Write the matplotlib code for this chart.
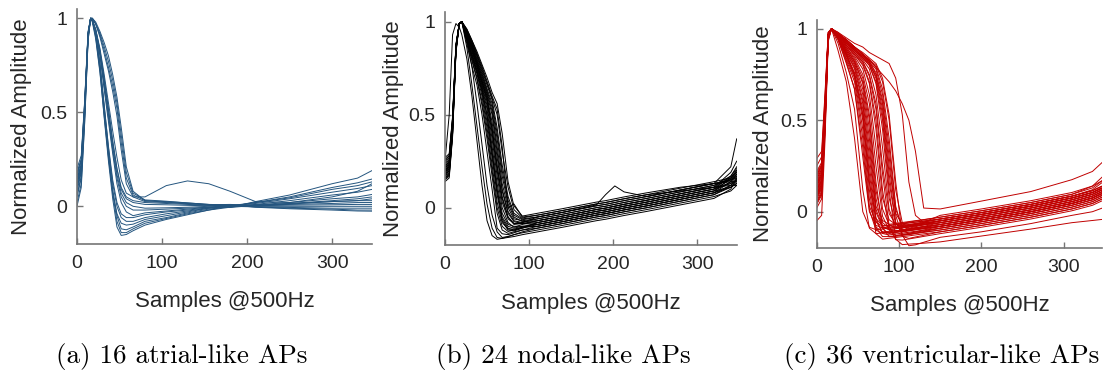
import matplotlib
matplotlib.use("Agg")
import matplotlib.pyplot as plt

# ---------------- data ----------------
# (a) atrial-like APs: shared sample grid + 16 traces
xa = [0, 5, 9, 13, 16, 18, 22, 27, 32, 37, 42, 47, 52, 58, 66,
      80, 105, 130, 155, 180, 210, 250, 300, 330, 347]
atrial = [
    [0.02, 0.12, 0.45, 0.88, 1.00, 0.99, 0.90, 0.72, 0.47, 0.24, 0.04, -0.11, -0.155, -0.15, -0.13, -0.10, -0.07, -0.045, -0.02, -0.005, 0.025, 0.06, 0.12, 0.15, 0.19],
    [0.05, 0.15, 0.48, 0.90, 1.00, 0.99, 0.91, 0.74, 0.50, 0.27, 0.07, -0.08, -0.14, -0.14, -0.12, -0.09, -0.065, -0.04, -0.02, 0.003, 0.02, 0.05, 0.10, 0.125, 0.145],
    [0.08, 0.18, 0.50, 0.91, 1.00, 0.99, 0.92, 0.75, 0.52, 0.29, 0.09, -0.05, -0.12, -0.125, -0.11, -0.08, -0.06, -0.035, -0.015, -0.002, 0.02, 0.045, 0.09, 0.11, 0.13],
    [0.00, 0.10, 0.44, 0.88, 1.00, 0.98, 0.89, 0.71, 0.48, 0.26, 0.07, -0.04, -0.09, -0.10, -0.095, -0.07, -0.05, -0.03, -0.01, 0.004, 0.015, 0.04, 0.075, 0.095, 0.11],
    [0.12, 0.20, 0.52, 0.92, 1.00, 0.99, 0.92, 0.76, 0.54, 0.31, 0.12, 0.00, -0.06, -0.08, -0.08, -0.06, -0.04, -0.025, -0.01, -0.004, 0.01, 0.03, 0.06, 0.075, 0.09],
    [0.10, 0.19, 0.50, 0.90, 1.00, 0.99, 0.91, 0.75, 0.53, 0.32, 0.14, 0.02, -0.04, -0.06, -0.06, -0.045, -0.03, -0.02, -0.008, 0.002, 0.008, 0.02, 0.04, 0.05, 0.063],
    [0.15, 0.22, 0.52, 0.91, 1.00, 0.99, 0.93, 0.80, 0.62, 0.45, 0.28, 0.12, 0.02, -0.03, -0.05, -0.035, -0.025, -0.015, -0.005, 0.006, 0.005, 0.015, 0.025, 0.03, 0.03],
    [0.18, 0.25, 0.55, 0.92, 1.00, 0.99, 0.93, 0.81, 0.64, 0.47, 0.30, 0.15, 0.05, 0.00, -0.02, -0.02, -0.015, -0.01, -0.005, -0.003, 0.005, 0.01, 0.015, 0.02, 0.02],
    [0.20, 0.27, 0.56, 0.93, 1.00, 0.99, 0.94, 0.82, 0.66, 0.49, 0.32, 0.17, 0.07, 0.02, 0.00, -0.01, -0.008, -0.005, 0.00, 0.004, 0.003, 0.006, 0.008, 0.01, 0.01],
    [0.13, 0.22, 0.53, 0.91, 1.00, 0.99, 0.94, 0.83, 0.68, 0.52, 0.35, 0.20, 0.09, 0.04, 0.02, 0.01, 0.008, 0.005, 0.003, -0.002, 0.00, 0.00, 0.00, 0.00, 0.00],
    [0.06, 0.16, 0.48, 0.89, 1.00, 0.99, 0.93, 0.82, 0.67, 0.51, 0.34, 0.20, 0.10, 0.05, 0.03, 0.02, 0.015, 0.01, 0.005, 0.006, -0.003, -0.006, -0.01, -0.01, -0.01],
    [0.16, 0.24, 0.54, 0.92, 1.00, 1.00, 0.97, 0.91, 0.83, 0.74, 0.64, 0.52, 0.34, 0.15, 0.06, 0.03, 0.022, 0.015, 0.008, 0.00, -0.003, -0.01, -0.015, -0.02, -0.02],
    [0.14, 0.22, 0.52, 0.91, 1.00, 1.00, 0.97, 0.92, 0.85, 0.77, 0.67, 0.55, 0.38, 0.18, 0.07, 0.034, 0.027, 0.018, 0.01, 0.008, -0.005, -0.013, -0.02, -0.025, -0.026],
    [0.10, 0.19, 0.50, 0.90, 1.00, 1.00, 0.98, 0.93, 0.87, 0.80, 0.70, 0.58, 0.42, 0.21, 0.08, 0.03, 0.025, 0.018, 0.01, -0.006, 0.005, 0.015, 0.03, 0.04, 0.05],
    [0.17, 0.25, 0.55, 0.92, 1.00, 1.00, 0.97, 0.90, 0.81, 0.72, 0.61, 0.48, 0.30, 0.12, 0.05, 0.025, 0.02, 0.013, 0.008, 0.01, 0.005, 0.012, 0.025, 0.03, 0.04],
    [0.12, 0.21, 0.51, 0.90, 1.00, 0.99, 0.94, 0.84, 0.70, 0.55, 0.40, 0.26, 0.14, 0.07, 0.05, 0.05, 0.11, 0.135, 0.12, 0.08, 0.025, 0.02, 0.05, 0.08, 0.12],
]

# (b) nodal-like APs: shared sample grid + 24 traces
xb = [0, 5, 9, 13, 17, 20, 26, 32, 38, 44, 50, 56, 62, 68, 75, 82, 92,
      110, 140, 180, 191, 202, 213, 240, 280, 320, 340, 347]
nodal = [
    [0.25, 0.50, 0.93, 0.99, 0.97, 0.93, 0.80, 0.60, 0.36, 0.12, -0.07, -0.15, -0.17, -0.165, -0.155, -0.145, -0.135, -0.12, -0.095, -0.06, -0.052, -0.042, -0.032, -0.01, 0.025, 0.06, 0.09, 0.12],
    [0.15, 0.18, 0.40, 0.85, 0.99, 1.0, 0.86, 0.66, 0.44, 0.22, 0.02, -0.11, -0.16, -0.165, -0.16, -0.155, -0.145, -0.13, -0.105, -0.07, -0.062, -0.052, -0.042, -0.02, 0.015, 0.05, 0.10, 0.16],
    [0.20, 0.23, 0.45, 0.86, 0.99, 1.0, 0.90, 0.76, 0.56, 0.34, 0.12, -0.04, -0.13, -0.16, -0.155, -0.145, -0.13, -0.11, -0.085, -0.05, -0.042, -0.032, -0.022, 0.0, 0.035, 0.07, 0.12, 0.15],
    [0.17, 0.20, 0.42, 0.85, 0.99, 1.0, 0.88, 0.76, 0.66, 0.50, 0.30, 0.10, -0.11, -0.14, -0.145, -0.135, -0.12, -0.10, -0.075, -0.04, -0.032, -0.022, -0.012, 0.01, 0.045, 0.08, 0.14, 0.18],
    [0.22, 0.25, 0.46, 0.87, 0.99, 1.0, 0.90, 0.79, 0.69, 0.55, 0.37, 0.17, -0.03, -0.12, -0.138, -0.13, -0.12, -0.11, -0.085, -0.05, -0.042, -0.032, -0.022, 0.0, 0.035, 0.07, 0.11, 0.13],
    [0.14, 0.16, 0.38, 0.83, 0.99, 1.0, 0.90, 0.80, 0.70, 0.57, 0.40, 0.20, 0.00, -0.10, -0.128, -0.12, -0.11, -0.09, -0.065, -0.03, -0.022, -0.012, -0.002, 0.02, 0.055, 0.09, 0.16, 0.20],
    [0.26, 0.28, 0.48, 0.87, 0.99, 1.0, 0.91, 0.81, 0.72, 0.60, 0.43, 0.23, 0.03, -0.08, -0.115, -0.115, -0.105, -0.10, -0.075, -0.04, -0.032, -0.022, -0.012, 0.01, 0.045, 0.08, 0.12, 0.15],
    [0.19, 0.22, 0.44, 0.86, 0.99, 1.0, 0.91, 0.82, 0.73, 0.62, 0.46, 0.27, 0.07, -0.07, -0.12, -0.125, -0.11, -0.08, -0.055, -0.02, -0.012, -0.002, 0.008, 0.03, 0.065, 0.10, 0.17, 0.22],
    [0.23, 0.26, 0.47, 0.87, 0.99, 1.0, 0.92, 0.83, 0.74, 0.64, 0.50, 0.30, 0.10, -0.05, -0.10, -0.11, -0.10, -0.09, -0.065, -0.03, -0.022, -0.012, -0.002, 0.02, 0.055, 0.09, 0.14, 0.17],
    [0.16, 0.18, 0.40, 0.84, 0.99, 1.0, 0.91, 0.82, 0.73, 0.63, 0.49, 0.29, 0.09, -0.06, -0.11, -0.12, -0.105, -0.08, -0.055, -0.02, -0.012, -0.002, 0.008, 0.03, 0.065, 0.10, 0.15, 0.19],
    [0.21, 0.24, 0.45, 0.86, 0.99, 1.0, 0.92, 0.84, 0.75, 0.65, 0.53, 0.33, 0.13, -0.03, -0.09, -0.10, -0.10, -0.10, -0.075, -0.04, -0.032, -0.022, -0.012, 0.01, 0.045, 0.08, 0.11, 0.14],
    [0.18, 0.21, 0.43, 0.85, 0.99, 1.0, 0.93, 0.85, 0.76, 0.66, 0.55, 0.37, 0.17, 0.00, -0.08, -0.105, -0.09, -0.07, -0.045, -0.01, -0.002, 0.008, 0.018, 0.04, 0.075, 0.11, 0.19, 0.25],
    [0.24, 0.27, 0.47, 0.87, 0.99, 1.0, 0.93, 0.85, 0.77, 0.67, 0.57, 0.40, 0.20, 0.03, -0.06, -0.085, -0.085, -0.08, -0.055, -0.02, -0.012, -0.002, 0.008, 0.03, 0.065, 0.10, 0.13, 0.16],
    [0.15, 0.17, 0.39, 0.84, 0.99, 1.0, 0.93, 0.86, 0.77, 0.68, 0.59, 0.43, 0.23, 0.06, -0.05, -0.09, -0.085, -0.07, -0.045, -0.01, -0.002, 0.008, 0.018, 0.04, 0.075, 0.11, 0.16, 0.20],
    [0.27, 0.29, 0.49, 0.88, 0.99, 1.0, 0.94, 0.86, 0.78, 0.69, 0.60, 0.46, 0.27, 0.09, -0.03, -0.075, -0.085, -0.09, -0.065, -0.03, -0.022, -0.012, -0.002, 0.02, 0.055, 0.09, 0.11, 0.13],
    [0.20, 0.23, 0.44, 0.86, 0.99, 1.0, 0.94, 0.87, 0.79, 0.70, 0.61, 0.50, 0.30, 0.10, -0.02, -0.07, -0.08, -0.06, -0.035, 0.0, 0.008, 0.018, 0.028, 0.05, 0.085, 0.12, 0.15, 0.18],
    [0.17, 0.20, 0.41, 0.85, 0.99, 1.0, 0.94, 0.87, 0.79, 0.71, 0.62, 0.52, 0.33, 0.13, 0.00, -0.06, -0.07, -0.06, -0.035, 0.0, 0.008, 0.018, 0.028, 0.05, 0.085, 0.12, 0.17, 0.21],
    [0.22, 0.25, 0.46, 0.87, 0.99, 1.0, 0.95, 0.88, 0.80, 0.72, 0.63, 0.54, 0.37, 0.17, 0.02, -0.05, -0.075, -0.07, -0.045, -0.01, -0.002, 0.008, 0.018, 0.04, 0.075, 0.11, 0.13, 0.15],
    [0.19, 0.22, 0.43, 0.85, 0.99, 1.0, 0.95, 0.88, 0.81, 0.73, 0.64, 0.56, 0.40, 0.20, 0.04, -0.04, -0.065, -0.05, -0.025, 0.01, 0.018, 0.028, 0.038, 0.06, 0.095, 0.13, 0.22, 0.37],
    [0.25, 0.28, 0.48, 0.87, 0.99, 1.0, 0.95, 0.89, 0.82, 0.74, 0.66, 0.58, 0.43, 0.23, 0.06, -0.03, -0.06, -0.05, -0.025, 0.01, 0.018, 0.028, 0.038, 0.06, 0.095, 0.13, 0.15, 0.17],
    [0.16, 0.19, 0.40, 0.84, 0.99, 1.0, 0.95, 0.89, 0.82, 0.75, 0.67, 0.59, 0.50, 0.30, 0.11, -0.01, -0.055, -0.04, -0.015, 0.02, 0.028, 0.038, 0.048, 0.07, 0.105, 0.14, 0.16, 0.19],
    [0.21, 0.24, 0.45, 0.86, 0.99, 1.0, 0.96, 0.90, 0.83, 0.76, 0.68, 0.60, 0.53, 0.33, 0.00, 0.02, -0.05, -0.04, -0.015, 0.02, 0.028, 0.038, 0.048, 0.07, 0.09, 0.11, 0.12, 0.12],
    [0.18, 0.21, 0.42, 0.85, 0.99, 1.0, 0.96, 0.90, 0.84, 0.77, 0.70, 0.62, 0.56, 0.40, 0.14, 0.01, -0.045, -0.03, -0.005, 0.03, 0.038, 0.048, 0.058, 0.08, 0.11, 0.13, 0.14, 0.14],
    [0.20, 0.22, 0.43, 0.85, 0.99, 1.0, 0.93, 0.86, 0.77, 0.68, 0.58, 0.42, 0.22, 0.05, -0.05, -0.085, -0.08, -0.05, -0.025, 0.015, 0.07, 0.117, 0.085, 0.06, 0.095, 0.13, 0.15, 0.16],
]

# (c) ventricular-like APs: shared sample grid + 36 traces
xc = [0, 6, 10, 14, 18, 26, 36, 46, 56, 64, 72, 80, 88, 96, 104, 112, 120, 130,
      150, 200, 260, 310, 335, 347]
ventricular = [
    [0.10, 0.15, 0.52, 0.96, 1.00, .88, .71, .40, .00, -.085, -.098, -.094, -.09, -.086, -.082, -.078, -.074, -.069, -.06, -.025, .02, .065, .095, .12],
    [0.05, 0.10, 0.45, 0.95, 1.00, .92, .76, .56, .12, -.09, -.12, -.115, -.11, -.105, -.099, -.094, -.088, -.082, -.07, -.035, .01, .055, .085, .11],
    [0.15, 0.20, 0.55, 0.97, 1.00, .94, .81, .67, .30, .00, -.075, -.088, -.084, -.079, -.075, -.071, -.066, -.061, -.05, -.015, .03, .075, .105, .13],
    [0.20, 0.25, 0.58, 0.97, 1.00, .95, .84, .73, .45, .07, -.084, -.11, -.107, -.103, -.10, -.097, -.093, -.089, -.08, -.045, .0, .045, .075, .10],
    [0.12, 0.17, 0.50, 0.96, 1.00, .95, .86, .75, .53, .16, -.037, -.076, -.076, -.071, -.066, -.062, -.057, -.051, -.04, -.005, .04, .085, .12, .16],
    [0.08, 0.13, 0.48, 0.95, 1.00, .96, .87, .78, .59, .25, -.035, -.119, -.127, -.122, -.117, -.112, -.107, -.101, -.09, -.055, -.01, .035, .065, .09],
    [0.18, 0.23, 0.56, 0.97, 1.00, .96, .88, .80, .64, .35, .013, -.081, -.098, -.093, -.088, -.083, -.078, -.072, -.06, -.025, .02, .065, .095, .12],
    [0.22, 0.27, 0.60, 0.98, 1.00, .96, .88, .81, .67, .40, .03, -.048, -.069, -.064, -.059, -.054, -.049, -.043, -.03, .005, .05, .095, .14, .19],
    [0.10, 0.15, 0.50, 0.96, 1.00, .96, .89, .82, .70, .45, .074, -.094, -.119, -.114, -.109, -.104, -.099, -.093, -.08, -.045, .0, .045, .075, .10],
    [0.14, 0.19, 0.53, 0.96, 1.00, .96, .89, .82, .71, .50, .118, -.06, -.09, -.085, -.08, -.075, -.07, -.063, -.05, -.015, .03, .075, .105, .13],
    [0.06, 0.11, 0.46, 0.95, 1.00, .96, .90, .83, .73, .53, .162, -.087, -.136, -.135, -.13, -.125, -.119, -.113, -.10, -.065, -.02, .025, .055, .08],
    [0.25, 0.30, 0.62, 0.98, 1.00, .95, .83, .71, .40, .03, -.058, -.079, -.074, -.07, -.066, -.061, -.057, -.051, -.04, -.005, .04, .085, .115, .14],
    [0.12, 0.17, 0.51, 0.96, 1.00, .97, .90, .84, .75, .59, .25, -.025, -.099, -.107, -.101, -.096, -.09, -.083, -.07, -.035, .01, .055, .085, .11],
    [0.02, 0.07, 0.42, 0.94, 1.00, .95, .85, .74, .50, .118, -.12, -.15, -.145, -.141, -.136, -.132, -.127, -.121, -.11, -.075, -.03, .015, .045, .07],
    [0.16, 0.21, 0.54, 0.97, 1.00, .97, .91, .85, .78, .64, .35, .015, -.071, -.088, -.082, -.077, -.071, -.064, -.05, -.015, .03, .075, .105, .13],
    [0.09, 0.14, 0.49, 0.95, 1.00, .95, .86, .76, .56, .206, -.05, -.113, -.116, -.112, -.107, -.102, -.098, -.092, -.08, -.045, .0, .045, .075, .10],
    [0.19, 0.24, 0.57, 0.97, 1.00, .97, .91, .86, .80, .70, .45, .074, -.044, -.069, -.063, -.057, -.051, -.044, -.03, .005, .05, .095, .13, .17],
    [0.11, 0.16, 0.50, 0.96, 1.00, .97, .91, .86, .81, .71, .50, .118, -.10, -.13, -.124, -.118, -.112, -.105, -.09, -.055, -.01, .035, .065, .09],
    [0.07, 0.12, 0.47, 0.95, 1.00, .96, .87, .79, .61, .30, -.003, -.085, -.098, -.093, -.088, -.083, -.078, -.072, -.06, -.025, .02, .065, .095, .12],
    [0.13, 0.18, 0.52, 0.96, 1.00, .97, .92, .87, .82, .74, .56, .206, -.077, -.153, -.155, -.149, -.143, -.135, -.12, -.085, -.04, .005, .035, .06],
    [0.21, 0.26, 0.58, 0.97, 1.00, .97, .92, .87, .82, .75, .59, .25, -.01, -.069, -.076, -.07, -.064, -.056, -.04, -.005, .04, .085, .115, .14],
    [0.04, 0.09, 0.44, 0.94, 1.00, .94, .82, .67, .35, .01, -.101, -.118, -.114, -.11, -.105, -.101, -.096, -.091, -.08, -.045, .0, .045, .075, .10],
    [0.17, 0.22, 0.55, 0.97, 1.00, .97, .92, .88, .83, .78, .64, .35, .013, -.081, -.098, -.093, -.088, -.082, -.07, -.035, .01, .055, .085, .11],
    [0.09, 0.14, 0.49, 0.95, 1.00, .95, .86, .75, .53, .162, -.087, -.136, -.136, -.131, -.127, -.122, -.117, -.111, -.10, -.065, -.02, .025, .055, .08],
    [0.15, 0.20, 0.54, 0.97, 1.00, .97, .93, .88, .84, .80, .70, .45, .074, -.064, -.089, -.083, -.076, -.068, -.05, -.015, .03, .075, .105, .13],
    [-0.05, -0.02, 0.38, 0.93, 1.00, .97, .93, .88, .84, .80, .71, .50, .118, -.15, -.18, -.177, -.175, -.172, -.165, -.133, -.095, -.06, -.048, -.042],
    [0.12, 0.17, 0.51, 0.96, 1.00, .97, .93, .89, .84, .81, .73, .53, .162, -.062, -.106, -.104, -.097, -.088, -.07, -.035, .01, .055, .085, .11],
    [0.20, 0.25, 0.57, 0.97, 1.00, .97, .93, .89, .85, .81, .74, .56, .206, -.057, -.123, -.125, -.118, -.109, -.09, -.055, -.01, .035, .065, .09],
    [0.08, 0.13, 0.48, 0.95, 1.00, .97, .93, .89, .85, .82, .75, .59, .25, -.01, -.069, -.075, -.068, -.058, -.04, -.005, .04, .085, .115, .14],
    [0.14, 0.19, 0.53, 0.96, 1.00, .97, .93, .89, .85, .82, .76, .61, .30, -.02, -.135, -.146, -.138, -.129, -.11, -.075, -.03, .015, .045, .07],
    [0.29, 0.33, 0.64, 0.98, 1.00, .97, .94, .90, .86, .82, .78, .64, .35, .013, -.081, -.097, -.089, -.08, -.06, -.025, .02, .065, .095, .12],
    [0.10, 0.15, 0.50, 0.96, 1.00, .97, .94, .90, .86, .83, .79, .67, .40, .03, -.098, -.118, -.11, -.10, -.08, -.045, .0, .045, .075, .10],
    [0.16, 0.21, 0.54, 0.97, 1.00, .97, .94, .90, .86, .83, .80, .71, .50, .118, -.06, -.09, -.082, -.071, -.05, -.015, .03, .075, .105, .13],
    [0.05, 0.10, 0.45, 0.95, 1.00, .97, .94, .90, .87, .84, .81, .73, .53, .162, -.128, -.186, -.181, -.167, -.14, -.11, -.065, -.02, .0, .02],
    [0.18, 0.23, 0.56, 0.97, 1.00, .98, .95, .92, .90, .87, .85, .83, .81, .73, .53, .162, -.02, -.058, -.02, .015, .06, .105, .14, .17],
    [0.12, 0.17, 0.51, 0.96, 1.00, .98, .94, .90, .86, .83, .79, .75, .71, .66, .59, .50, .33, .02, .015, .058, .11, .175, .22, .27],
]

x_ticks = [0, 100, 200, 300]
y_ticks = [0, 0.5, 1]
y_tick_labels = ["0", "0.5", "1"]
x_label = "Samples @500Hz"
y_label = "Normalized Amplitude"
captions = ["(a) 16 atrial-like APs", "(b) 24 nodal-like APs", "(c) 36 ventricular-like APs"]
line_colors = ["#24557f", "#000000", "#c00000"]

# ---------------- figure ----------------
W, H = 1103, 381
fig = plt.figure(figsize=(W / 100, H / 100), dpi=100)

# axes rectangles in pixels: left, top, right, bottom
rects_px = [(77, 8.9, 372, 243.9), (445, 12.4, 736.7, 244.9), (816.7, 19.6, 1102.3, 248.3)]
panels = [(xa, atrial), (xb, nodal), (xc, ventricular)]
ylabel_x_px = [22, 393, 763]
xlabel_y_px = [302, 303, 305]
caption_x_px = [56, 436, 784]

text_color = "#262626"
axis_color = "#767676"
sans = ["Liberation Sans", "DejaVu Sans"]

for i, ((x, traces), (l, t, r, b)) in enumerate(zip(panels, rects_px)):
    ax = fig.add_axes([l / W, 1 - b / H, (r - l) / W, (b - t) / H])
    for tr in traces:
        ax.plot(x, tr, color=line_colors[i], lw=0.7, solid_joinstyle="round")
    ax.set_xlim(0, 347)
    ax.set_ylim(-0.2, 1.05)
    ax.set_xticks(x_ticks)
    ax.set_yticks(y_ticks)
    ax.set_yticklabels(y_tick_labels)
    for s in ("top", "right"):
        ax.spines[s].set_visible(False)
    for s in ("left", "bottom"):
        ax.spines[s].set_color(axis_color)
        ax.spines[s].set_linewidth(1.2)
    ax.tick_params(direction="in", length=4, width=1.0, color=axis_color,
                   labelsize=14, labelcolor=text_color, pad=8)
    for lab in ax.get_xticklabels() + ax.get_yticklabels():
        lab.set_family(sans)
    ax.tick_params(axis="y", pad=7)
    ax.set_xlabel(x_label, fontsize=16, color=text_color, family=sans, va="center")
    ax.set_ylabel(y_label, fontsize=16, color=text_color, family=sans, va="center")
    ax.xaxis.set_label_coords(0.5, (b - xlabel_y_px[i]) / (b - t))
    ax.yaxis.set_label_coords((ylabel_x_px[i] - l) / (r - l), 0.5)
    fig.text(caption_x_px[i] / W, 1 - 357 / H, captions[i], family=["cmr10", "DejaVu Serif"],
             fontsize=19.5, color="black", ha="left", va="center")

fig.savefig("out.png", dpi=100)
